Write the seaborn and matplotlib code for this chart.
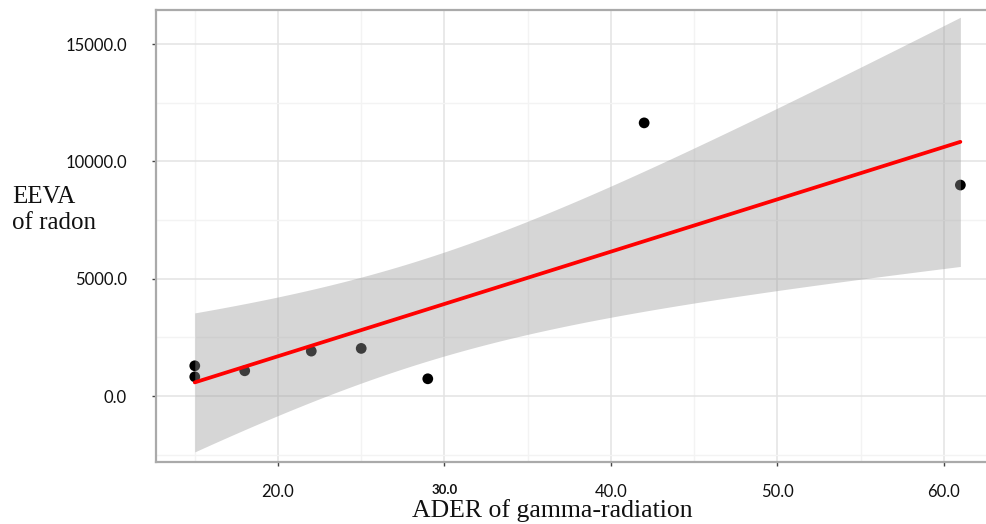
import numpy as np
import matplotlib.pyplot as plt
import seaborn as sns
from matplotlib.ticker import MultipleLocator

# values
ader = [15.0, 15.0, 18.0, 22.0, 25.0, 29.0, 42.0, 61.0]
eeva = [1290, 820, 1077, 1915, 2030, 736, 11640, 8991]
x_ticks = [20.0, 30.0, 40.0, 50.0, 60.0]
y_ticks = [0.0, 5000.0, 10000.0, 15000.0]

sns.set_style("white")
plt.rcParams['font.family'] = ['Lato', 'DejaVu Sans']

fig = plt.figure(figsize=(9.87, 5.24), dpi=100)
ax = fig.add_axes([156 / 987, 62 / 524, 1 - 156 / 987, (462 - 10) / 524])

# grid
ax.xaxis.set_minor_locator(MultipleLocator(5))
ax.yaxis.set_minor_locator(MultipleLocator(2500))
ax.grid(True, which='major', color='#e3e3e3', lw=1.1, zorder=0)
ax.grid(True, which='minor', color='#f3f3f3', lw=1.0, zorder=0)
ax.set_axisbelow(True)

# points first, the band is laid over them (ggplot style)
sns.scatterplot(x=ader, y=eeva, color='black', s=60, edgecolor='none', ax=ax, zorder=2)

# 95% confidence band of the linear fit
x = np.array(ader)
y = np.array(eeva)
n = len(x)
b, a = np.polyfit(x, y, 1)
resid = y - (a + b * x)
s = np.sqrt(np.sum(resid ** 2) / (n - 2))
sxx = np.sum((x - x.mean()) ** 2)
xs = np.linspace(x.min(), x.max(), 200)
fit = a + b * xs
half = 2.447 * s * np.sqrt(1 / n + (xs - x.mean()) ** 2 / sxx)
ax.fill_between(xs, fit - half, fit + half, color='#999999', alpha=0.4, lw=0, zorder=3)

sns.regplot(x=ader, y=eeva, scatter=False, ci=None, truncate=True, ax=ax,
            line_kws={'color': 'red', 'lw': 2.7, 'zorder': 4})

ax.set_xlim(12.67, 62.6)
ax.set_ylim(-2810, 16450)
ax.set_xticks(x_ticks)
ax.set_yticks(y_ticks)
ax.set_xticklabels([f"{v:.1f}" for v in x_ticks], fontsize=12, color='#111111')
ax.set_yticklabels([f"{v:.1f}" for v in y_ticks], fontsize=12, color='#111111')
lbl = ax.get_xticklabels()[1]
lbl.set_fontweight('bold')
lbl.set_fontsize(9.5)
ax.tick_params(axis='x', which='major', length=3, width=1, color='#444444', pad=13, bottom=True)
ax.tick_params(axis='y', which='major', length=3, width=1, color='#444444', pad=18, left=True)
ax.tick_params(which='minor', length=0)
ax.set_xlabel('')
ax.set_ylabel('')

for side in ['left', 'top', 'bottom']:
    ax.spines[side].set_visible(True)
    ax.spines[side].set_color('#aaaaaa')
    ax.spines[side].set_linewidth(1.6)
ax.spines['right'].set_visible(False)

fig.text(12 / 987, 1 - 210 / 524, 'EEVA\nof radon', family='Liberation Serif',
         fontsize=18, ha='left', va='center', linespacing=1.2, color='#111111')
fig.text(552 / 987, 1 - 517 / 524, 'ADER of gamma-radiation', family='Liberation Serif',
         fontsize=18.5, ha='center', va='baseline', color='#111111')

fig.savefig('out.png', dpi=100)
